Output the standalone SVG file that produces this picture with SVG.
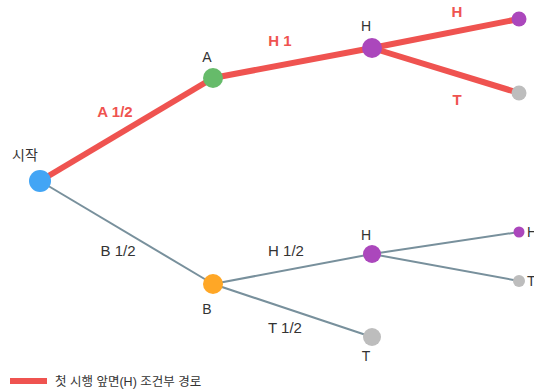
<svg xmlns="http://www.w3.org/2000/svg" width="534" height="391" viewBox="0 0 534 391">
<style>
.red{stroke:#ef5350;stroke-width:6;fill:none}
.gray{stroke:#78909c;stroke-width:2;fill:none}
.lbl{font-family:"Liberation Sans","Noto Sans CJK KR",sans-serif;font-size:14px;fill:#333}
.rl{font-family:"Liberation Sans",sans-serif;font-size:15px;font-weight:bold;fill:#ef5350}
.gl{font-family:"Liberation Sans",sans-serif;font-size:15px;fill:#333}
</style>
<rect width="534" height="391" fill="#fff"/>
<g id="connectors">
<line class="gray" x1="40" y1="181" x2="213" y2="284"/>
<line class="gray" x1="213" y1="284" x2="372" y2="254"/>
<line class="gray" x1="213" y1="284" x2="372" y2="337"/>
<line class="gray" x1="372" y1="254" x2="519" y2="232"/>
<line class="gray" x1="372" y1="254" x2="519" y2="281"/>
<line class="red" x1="40" y1="181" x2="213" y2="78"/>
<line class="red" x1="213" y1="78" x2="372" y2="48"/>
<line class="red" x1="372" y1="48" x2="519" y2="19"/>
<line class="red" x1="372" y1="48" x2="519" y2="93"/>
<text class="rl" x="115" y="117" text-anchor="middle">A 1/2</text>
<text class="rl" x="280" y="46" text-anchor="middle">H 1</text>
<text class="rl" x="457" y="17" text-anchor="middle">H</text>
<text class="rl" x="457" y="105" text-anchor="middle">T</text>
<text class="gl" x="118" y="256" text-anchor="middle">B 1/2</text>
<text class="gl" x="286" y="256" text-anchor="middle">H 1/2</text>
<text class="gl" x="285" y="333" text-anchor="middle">T 1/2</text>
</g>
<g id="start"><circle cx="40" cy="181" r="11" fill="#42a5f5"/><text class="lbl" x="25" y="160" text-anchor="middle">시작</text></g>
<g id="nodeA"><circle cx="213" cy="78" r="10" fill="#66bb6a"/><text class="lbl" x="207" y="62" text-anchor="middle">A</text></g>
<g id="nodeAH"><circle cx="372" cy="48" r="10" fill="#ab47bc"/><text class="lbl" x="366" y="31" text-anchor="middle">H</text></g>
<g id="nodeAHH"><circle cx="519" cy="19" r="7.5" fill="#ab47bc"/></g>
<g id="nodeAHT"><circle cx="519" cy="93" r="7.5" fill="#bdbdbd"/></g>
<g id="nodeB"><circle cx="213" cy="284" r="10" fill="#ffa726"/><text class="lbl" x="207" y="314" text-anchor="middle">B</text></g>
<g id="nodeBH"><circle cx="372" cy="254" r="9" fill="#ab47bc"/><text class="lbl" x="366" y="240" text-anchor="middle">H</text></g>
<g id="nodeBT"><circle cx="372" cy="337" r="9" fill="#bdbdbd"/><text class="lbl" x="366" y="361" text-anchor="middle">T</text></g>
<g id="nodeBHH"><circle cx="519" cy="232" r="5.5" fill="#ab47bc"/><text class="lbl" x="527" y="237">H</text></g>
<g id="nodeBHT"><circle cx="519" cy="281" r="6" fill="#bdbdbd"/><text class="lbl" x="527" y="286">T</text></g>
<g id="legend"><line class="red" x1="10" y1="381" x2="47" y2="381"/><text font-family="'Liberation Sans','Noto Sans CJK KR',sans-serif" font-size="12.5" fill="#333" x="55" y="386">첫 시행 앞면(H) 조건부 경로</text></g>
</svg>
